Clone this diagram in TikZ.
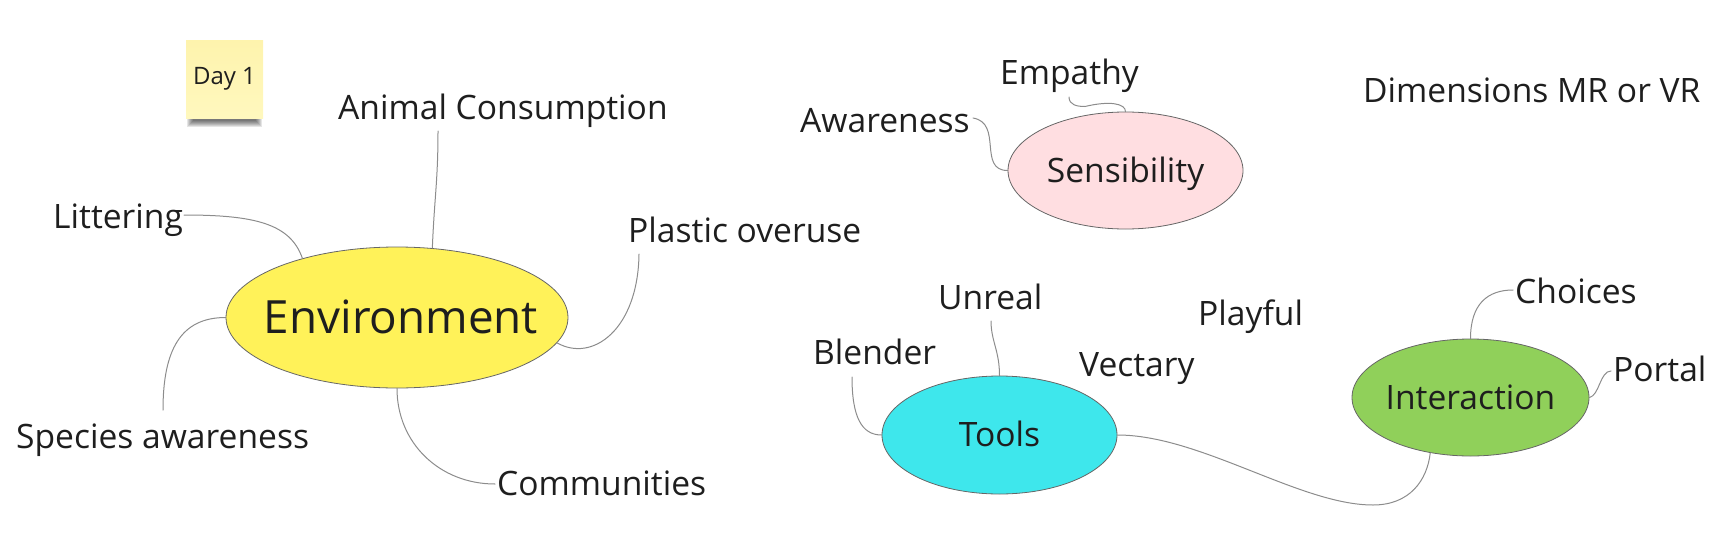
\documentclass[tikz,border=0pt]{standalone}
\usepackage{fontspec}
\setmainfont{Open Sans}
\usetikzlibrary{shapes.geometric,calc}
\definecolor{EnvYellow}{HTML}{FFF259}
\definecolor{SensPink}{HTML}{FFDEE1}
\definecolor{ToolCyan}{HTML}{3EE7EC}
\definecolor{InterGreen}{HTML}{90D05A}
\definecolor{NoteTop}{HTML}{FEF3AD}
\definecolor{NoteBottom}{HTML}{FFF8BE}
\definecolor{InkColor}{HTML}{1E1E1E}
\newcommand{\BranchColor}{black!45}
\newcommand{\LabelFont}{\fontsize{33.6}{40}\selectfont}
\newcommand{\Centred}[2][0pt]{\makebox[0pt]{\raisebox{\dimexpr#1-0.357em\relax}[0pt][0pt]{#2}}}

\begin{document}
\begin{tikzpicture}[line cap=round,line join=round,x=1pt,y=-1pt,
  topic/.style={ellipse,draw=black!60,line width=0.8pt,inner sep=0pt,
    text=InkColor,font=\LabelFont},
  leaf/.style={anchor=base west,inner sep=0pt,text=InkColor,font=\LabelFont},
  branch/.style={draw=\BranchColor,line width=1pt}]
  \useasboundingbox (0,0) rectangle (1732,546);
  % sticky note
  \foreach \i in {1,...,7}
    \fill[black,opacity=0.1] (186+\i,117) rectangle (263-\i,128-\i);
  \node[top color=NoteTop,bottom color=NoteBottom,minimum width=77pt,
    minimum height=78pt,inner sep=0pt,text=InkColor,
    font=\fontsize{24}{29}\selectfont] (day) at (224.5,79) {\Centred[3.5pt]{Day 1}};
  % topics
  \node[topic,fill=EnvYellow,minimum width=342pt,minimum height=141pt,
    font=\fontsize{45.8}{55}\selectfont] (env) at (397,317.5) {\Centred{\hspace{8pt}Environment}};
  \node[topic,fill=SensPink,minimum width=235pt,minimum height=117pt]
    (sens) at (1125.5,170.5) {\Centred{Sensibility}};
  \node[topic,fill=ToolCyan,minimum width=235pt,minimum height=118pt]
    (tools) at (999.5,435) {\Centred{Tools}};
  \node[topic,fill=InterGreen,minimum width=237pt,minimum height=117pt]
    (inter) at (1470.5,397.5) {\Centred{Interaction}};
  % labels
  \node[leaf] (animal) at (338,119) {Animal Consumption};
  \node[leaf] (litter) at (53,228) {Littering};
  \node[leaf] (species) at (16,448) {Species awareness};
  \node[leaf] (commun) at (497,495) {Communities};
  \node[leaf] (plastic) at (628,242) {Plastic overuse};
  \node[leaf] (aware) at (800,132) {Awareness};
  \node[leaf] (empathy) at (1000,84) {Empathy};
  \node[leaf] (dims) at (1363,102) {Dimensions MR or VR};
  \node[leaf] (unreal) at (938,309) {Unreal};
  \node[leaf] (blender) at (813,364) {Blender};
  \node[leaf] (vectary) at (1079,376) {Vectary};
  \node[leaf] (playful) at (1198,325) {Playful};
  \node[leaf] (choices) at (1515,303) {Choices};
  \node[leaf] (portal) at (1613,381) {Portal};
  \coordinate (dip) at (1373,505);
  % branches
  \draw[branch] ($(animal.base west)+(100,12)$) .. controls +(0,50) and +(2,-50) .. (env.63);
  \draw[branch] ($(litter.base west)+(131,-13)$) .. controls +(70,0) and +(-12,-35) .. (env.148.7);
  \draw[branch] ($(species.base west)+(147,-38)$) .. controls +(0,-60) and +(-45,0) .. (env.west);
  \draw[branch] (env.south) .. controls +(0,55) and +(-55,0) .. ($(commun.base west)+(-2,-11)$);
  \draw[branch] ($(plastic.base west)+(11,12)$) .. controls +(-1,76) and +(35,20) .. (env.-9.9);
  \draw[branch] ($(aware.base west)+(173,-14)$) .. controls +(30,5) and +(-30,0) .. (sens.west);
  \draw[branch] ($(empathy.base west)+(69,13)$) .. controls +(0,8) and +(-8,0)
    .. ($(empathy.base west)+(85,22.5)$) .. controls +(25,-6) and +(0,-8) .. (sens.north);
  \draw[branch] ($(unreal.base west)+(53,12)$) .. controls +(0,20) and +(0,-25) .. (tools.north);
  \draw[branch] ($(blender.base west)+(39,13)$) .. controls +(0,40) and +(-20,0) .. (tools.west);
  \draw[branch] (tools.east) .. controls +(83,0) and +(-73,0) .. (dip)
    .. controls +(37,0) and +(-3,27) .. (inter.234.6);
  \draw[branch] (inter.north) .. controls +(0,-35) and +(-25,0) .. ($(choices.base west)+(-2,-13)$);
  \draw[branch] ($(portal.base west)+(-2,-10)$) .. controls +(-11,0) and +(10,-2) .. (inter.east);
\end{tikzpicture}
\end{document}
